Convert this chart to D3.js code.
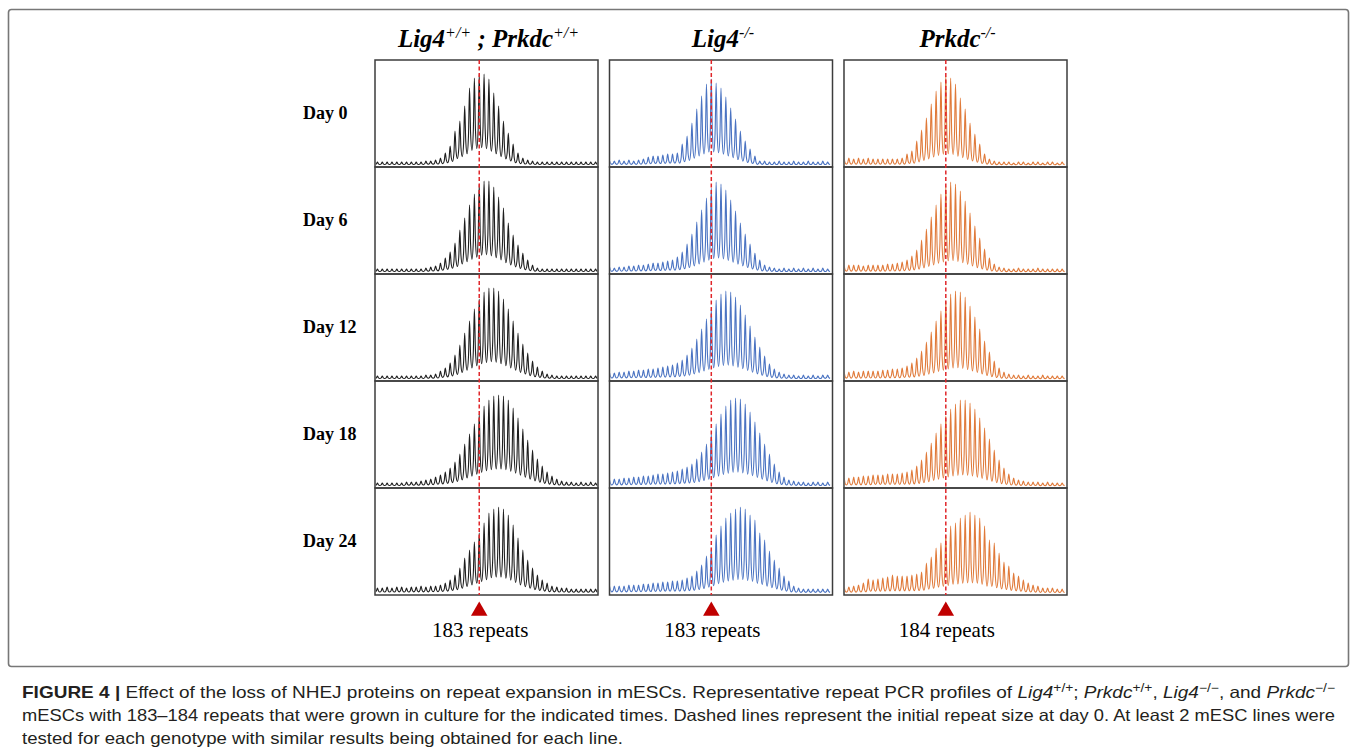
<!DOCTYPE html>
<html>
<head>
<meta charset="utf-8">
<title>Repeat PCR profiles</title>
<script src="https://cdnjs.cloudflare.com/ajax/libs/d3/7.8.5/d3.min.js"></script>
<style>
  body { margin: 0; background: #fff; }
  svg { display: block; }
</style>
</head>
<body>
<svg id="fig" width="1357" height="754"></svg>
<script>

// rows and columns
var days = ["Day 0", "Day 6", "Day 12", "Day 18", "Day 24"];
var genotypes = ["wt", "lig4", "prkdc"];
var startRepeats = [183, 183, 184];      // initial repeat size (dashed line)
var firstPeak = [162, 162, 163];          // repeat number of first peak in each column
var xDomainStart = [161.5, 162, 163];     // left edge of each panel, in repeats
var repeatSpan = 46;

// peak heights per repeat (one array per day)
var wtPeaks = [
  [3,3,3,3,3,3,3,3,3,3, 4,4,5, 7,12,19,34,44,59,77,87,91,91,86,72,59,44,32,21,12,7,5,4, 3,3,3,3,3,3,3,3,3,3,3,3,3],
  [3,3,3,3,3,3,3,3,3,3, 4,5,6, 9,14,20,29,42,54,67,78,88,91,91,85,75,64,49,37,27,19,12,7,4, 3,3,3,3,3,3,3,3,3,3,3,3],
  [3,3,3,3,3,3,3,3,3,3,4,4, 5,8,11,16,24,34,46,58,70,80,87,91,91,88,80,70,58,46,35,26,18,12,8,5,4, 3,3,3,3,3,3,3,3,3],
  [3,3,3,3,3,3,4,4, 4,5,6,7,9,11,14,18,24,32,42,52,62,72,80,86,90,91,90,86,78,68,57,46,36,27,20,14,10,7,5, 4,4,3,4,3,4,3],
  [5,5,6,5,6,6,5,6,6,7,6,7,7, 8,10,13,18,25,35,43,51,60,70,80,84,86,84,78,68,55,43,33,25,18,13,10,7, 6,5,5,4,4,4,4,4,4]
];
var lig4Peaks = [
  [4,4,5,4,5,4, 5,6,8,9,9,10,11,11,12,21,29,42,56,69,81,86,82,77,68,57,46,34,24,16,9,4, 4,3,3,4,3,3,4,3,3,4,3,3,4,3],
  [5,4,5,5,6,6,7,7, 8,9,9,10,11,12,15,20,28,38,50,62,74,84,90,88,82,72,61,49,38,28,19,12,7,5, 4,3,4,3,4,3,4,3,4,3,4,3],
  [6,6,7,7,8,8,9,9, 10,10,11,12,13,14,16,19,24,31,40,50,60,70,79,85,88,87,82,74,64,53,42,32,23,15,10,7,5, 4,4,3,4,3,4,3,4,4],
  [6,7,7,8,8,9,9,10, 10,11,12,12,13,14,15,17,19,22,27,34,42,52,62,72,80,86,88,87,82,74,64,53,42,32,22,14,9,6,5, 4,4,3,4,4,3,4],
  [7,7,7,7,8,8,8,9,9,10,10,11,11,12,12,13,15,17,22,28,37, 45,58,67,75,80,84,86,84,78,73,60,53,42,33,25,17,12,7,5,4,4,4,4,4,4]
];
var prkdcPeaks = [
  [6,7,6,7,6,7,6,6,6,6,6,6, 7,11,14,24,35,47,61,74,83,89,87,81,67,56,42,31,21,11,6,4, 3,3,3,2,3,3,2,3,3,2,3,3,2,3],
  [6,7,7,7,6,7,7,7,7,8,8,9, 10,12,16,22,32,43,55,67,78,86,90,88,81,71,59,46,34,23,14,8,5, 4,3,3,4,3,3,3,4,3,3,3,3,3],
  [7,7,8,7,8,8,8,8,9,9,10,10, 11,13,16,21,28,37,47,58,68,78,85,88,87,82,73,62,50,38,27,18,11,7,5, 4,4,3,4,3,3,4,3,3,3,3],
  [8,8,9,9,10,10,11,11,11,12,12,12, 13,14,16,20,26,34,43,53,62,70,77,82,86,86,83,77,68,58,47,36,26,18,12,8,6, 5,4,4,4,3,4,3,3,3],
  [6,6,7,8,10,14,13,14,15,16,18,17,17,17,18,19,21,30,36,45,50, 58,67,70,75,78,81,78,75,67,53,50,40,31,27,20,17,13,10,8,7,5,5,5,4,4]
];
var allPeaks = [wtPeaks, lig4Peaks, prkdcPeaks];

var lineColors = ["#1e1e1e", "#4a73c2", "#e07a3a"];
var valleyFrac = [0.19, 0.16, 0.13];

var svg = d3.select("#fig");

// outer frame
svg.append("rect")
  .attr("x", 8.5).attr("y", 9.5)
  .attr("width", 1340).attr("height", 657)
  .attr("rx", 3)
  .attr("fill", "none")
  .attr("stroke", "#777")
  .attr("stroke-width", 1.6);

var col = d3.scaleBand().domain(genotypes).range([375, 1067]).paddingInner(0.049);
var row = d3.scaleBand().domain(days).range([60, 595]);
var pw = col.bandwidth(), ph = row.bandwidth();

var y = d3.scaleLinear().domain([0, 100]).range([ph - 2, ph - 102]);

var defs = svg.append("defs");
defs.append("clipPath").attr("id", "panelClip")
  .append("rect").attr("x", 0.8).attr("y", 0.8)
  .attr("width", pw - 1.6).attr("height", ph - 1.6);

function profilePoints(peaks, first, vf) {
  var pts = [];
  peaks.forEach(function(p, i) {
    var r = first + i;
    var vL = vf * Math.min(p, i > 0 ? peaks[i - 1] : p);
    var vR = vf * Math.min(p, i < peaks.length - 1 ? peaks[i + 1] : p);
    if (i === 0) pts.push([r - 0.5, vL]);
    pts.push([r - 0.22, vL + 0.27 * (p - vL)]);
    pts.push([r, p]);
    pts.push([r + 0.22, vR + 0.27 * (p - vR)]);
    pts.push([r + 0.5, vR]);
  });
  return pts;
}

genotypes.forEach(function(g, c) {
  var x = d3.scaleLinear()
    .domain([xDomainStart[c], xDomainStart[c] + repeatSpan])
    .range([0, pw]);
  var line = d3.line()
    .x(function(d) { return x(d[0]); })
    .y(function(d) { return y(d[1]); })
    .curve(d3.curveMonotoneX);

  days.forEach(function(day, r) {
    var pg = svg.append("g")
      .attr("transform", "translate(" + col(g) + "," + row(day) + ")");
    pg.append("g").attr("clip-path", "url(#panelClip)")
      .append("path")
      .attr("d", line(profilePoints(allPeaks[c][r], firstPeak[c], valleyFrac[c])))
      .attr("fill", "none")
      .attr("stroke", lineColors[c])
      .attr("stroke-width", 1.1)
      .attr("stroke-linejoin", "round");
    pg.append("rect")
      .attr("width", pw).attr("height", ph)
      .attr("fill", "none")
      .attr("stroke", "#3c3c3c")
      .attr("stroke-width", 1.5);
  });

  // dashed line at initial repeat size
  var xd = col(g) + x(startRepeats[c]);
  svg.append("line")
    .attr("x1", xd).attr("x2", xd)
    .attr("y1", row(days[0])).attr("y2", row(days[days.length - 1]) + ph)
    .attr("stroke", "#e0262a")
    .attr("stroke-width", 1.5)
    .attr("stroke-dasharray", "4,2.5");

  svg.append("path")
    .attr("d", d3.symbol(d3.symbolTriangle, 118)())
    .attr("transform", "translate(" + xd + ",611)")
    .attr("fill", "#c00000");

  svg.append("text")
    .attr("x", xd + 1).attr("y", 637)
    .attr("text-anchor", "middle")
    .attr("font-family", "Liberation Serif, serif")
    .attr("font-size", 21)
    .text(startRepeats[c] + " repeats");
});

// column titles
var titleParts = [
  [["Lig4", 0], ["+/+", 1], [" ;  Prkdc", 0], ["+/+", 1]],
  [["Lig4", 0], ["-/-", 1]],
  [["Prkdc", 0], ["-/-", 1]]
];
genotypes.forEach(function(g, c) {
  var t = svg.append("text")
    .attr("x", col(g) + pw / 2 + 2).attr("y", 47)
    .attr("text-anchor", "middle")
    .attr("font-family", "Liberation Serif, serif")
    .attr("font-weight", "bold")
    .attr("font-style", "italic")
    .attr("font-size", 25);
  var up = false;
  titleParts[c].forEach(function(p) {
    var s = t.append("tspan").text(p[0]);
    if (p[1] && !up) { s.attr("dy", -9).attr("font-size", 16).attr("font-weight", "normal"); up = true; }
    else if (p[1]) { s.attr("font-size", 16).attr("font-weight", "normal"); }
    else if (up) { s.attr("dy", 9); up = false; }
  });
});

// row labels
svg.selectAll("text.day")
  .data(days)
  .enter().append("text")
  .attr("class", "day")
  .attr("x", 303)
  .attr("y", function(d) { return row(d) + ph / 2 + 5; })
  .attr("font-family", "Liberation Serif, serif")
  .attr("font-weight", "bold")
  .attr("font-size", 18)
  .text(function(d) { return d; });

// caption
var capFont = "Liberation Sans, Arial, sans-serif";
function capLine(yy, len) {
  return svg.append("text")
    .attr("x", 22).attr("y", yy)
    .attr("font-family", capFont)
    .attr("font-size", 16.5)
    .attr("fill", "#231f20")
    .attr("textLength", len)
    .attr("lengthAdjust", "spacingAndGlyphs");
}
var l1 = capLine(698, 1313);
var parts1 = [
  ["FIGURE 4 | ", "b"],
  ["Effect of the loss of NHEJ proteins on repeat expansion in mESCs. Representative repeat PCR profiles of ", ""],
  ["Lig4", "i"], ["+/+", "s"], ["; ", ""], ["Prkdc", "i"], ["+/+", "s"], [", ", ""],
  ["Lig4", "i"], ["\u2212/\u2212", "s"], [", and ", ""], ["Prkdc", "i"], ["\u2212/\u2212", "s"]
];
var raised = false;
parts1.forEach(function(p) {
  var s = l1.append("tspan").text(p[0]);
  if (p[1] === "b") s.attr("font-weight", "bold");
  if (p[1] === "i") s.attr("font-style", "italic");
  if (p[1] === "s") { s.attr("dy", -6).attr("font-size", 12).attr("font-style", "normal"); raised = true; }
  else if (raised) { s.attr("dy", 6); raised = false; }
});
capLine(721, 1313).text("mESCs with 183\u2013184 repeats that were grown in culture for the indicated times. Dashed lines represent the initial repeat size at day 0. At least 2 mESC lines were");
capLine(744, 601).text("tested for each genotype with similar results being obtained for each line.");

</script>
</body>
</html>
